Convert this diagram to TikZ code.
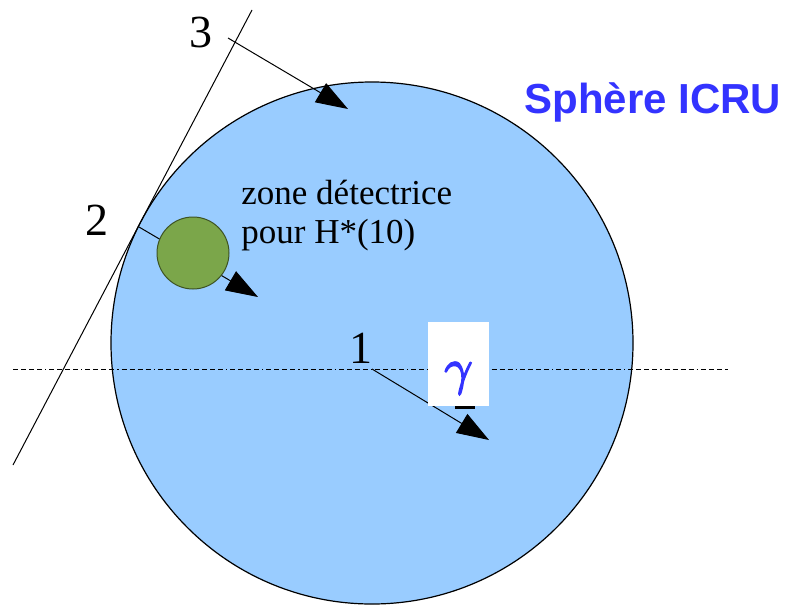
\documentclass[tikz,border=0pt]{standalone}
\usepackage{fontspec}
\setmainfont{Liberation Serif}
\newfontfamily\headsans{Liberation Sans}
\usetikzlibrary{arrows.meta}
\definecolor{ink}{HTML}{000000}
\definecolor{spherefill}{HTML}{99CCFF}
\definecolor{detfill}{HTML}{7BA64A}
\definecolor{detline}{HTML}{3E5424}
\definecolor{icrublue}{HTML}{3333FF}
\newcommand{\digits}{\fontsize{23}{27}\selectfont}
\newcommand{\notefont}{\fontsize{17.5}{19.5}\selectfont}
\newcommand{\headfont}{\headsans\bfseries\fontsize{21}{25}\selectfont}
\newcommand{\gammafont}{\fontsize{27}{32}\selectfont}
\newcommand{\heavy}[1]{\special{pdf:code q 2 Tr 0.9 w}#1\special{pdf:code Q}}
\tikzset{
 every node/.append style={text=ink,inner sep=0pt},
 sphere/.style={circle,draw=ink,fill=spherefill,line width=.6pt,minimum size=261pt},
 detector/.style={circle,draw=detline,fill=detfill,line width=.5pt,minimum size=36pt},
 num/.style={font=\digits,anchor=base},
 note/.style={font=\notefont,align=left,anchor=north west},
 head/.style={font=\headfont,text=icrublue,anchor=base west},
 ray/.style={-{Triangle[length=16pt,width=11pt]},draw=ink,line width=.5pt},
 tangent/.style={draw=ink,line width=.5pt},
 axis/.style={draw=ink,line width=.5pt,dash pattern=on 2.5pt off 1.5pt on 2.5pt off 1.5pt on 2.5pt off 1.5pt on 2.5pt off 1.5pt on .6pt off 1.5pt},
 gammabox/.style={fill=white,minimum width=30.5pt,minimum height=42pt,text=icrublue,font=\gammafont,text height=20pt,text depth=0pt},
}

\begin{document}
\begin{tikzpicture}[x=.5pt,y=-.5pt]
\useasboundingbox (0,0) rectangle (785,605);

% sphere and its axis
\node[sphere] (sphere) at (372,343) {};
\coordinate (axisW) at (13,369);
\coordinate (axisE) at (728,369);
\draw[axis] (axisW) -- (axisE);

% tangent line
\coordinate (tanlow) at (13,465);
\coordinate (tanhigh) at (252,10);
\draw[tangent] (tanlow) -- (tanhigh);

% incoming rays
\coordinate (in1) at (372,369);
\coordinate (hit1) at (489,440);
\coordinate (in2) at (139,227);
\coordinate (hit2) at (258,297);
\coordinate (in3) at (228,38);
\coordinate (hit3) at (348,109);
\draw[ray] (in1) -- (hit1);
\draw[ray] (in2) -- (hit2);
\draw[ray] (in3) -- (hit3);

\node[detector] (det) at (193,253) {};

\node[num] (n1) at (361,363) {1};
\node[num] (n2) at (97,235) {2};
\node[num] (n3) at (201,47) {3};

\node[note] (zone) at (241,180) {zone détectrice\\pour H*(10)};
\node[head] (icru) at (524,113) {Sphère ICRU};

\node[gammabox] (gam) at (458.5,364) {\heavy{$\gamma$}};
\draw[line width=1.5pt] ([xshift=-1.75pt,yshift=-.5pt]gam.south) -- ([xshift=8.25pt,yshift=-.5pt]gam.south);

\end{tikzpicture}
\end{document}
